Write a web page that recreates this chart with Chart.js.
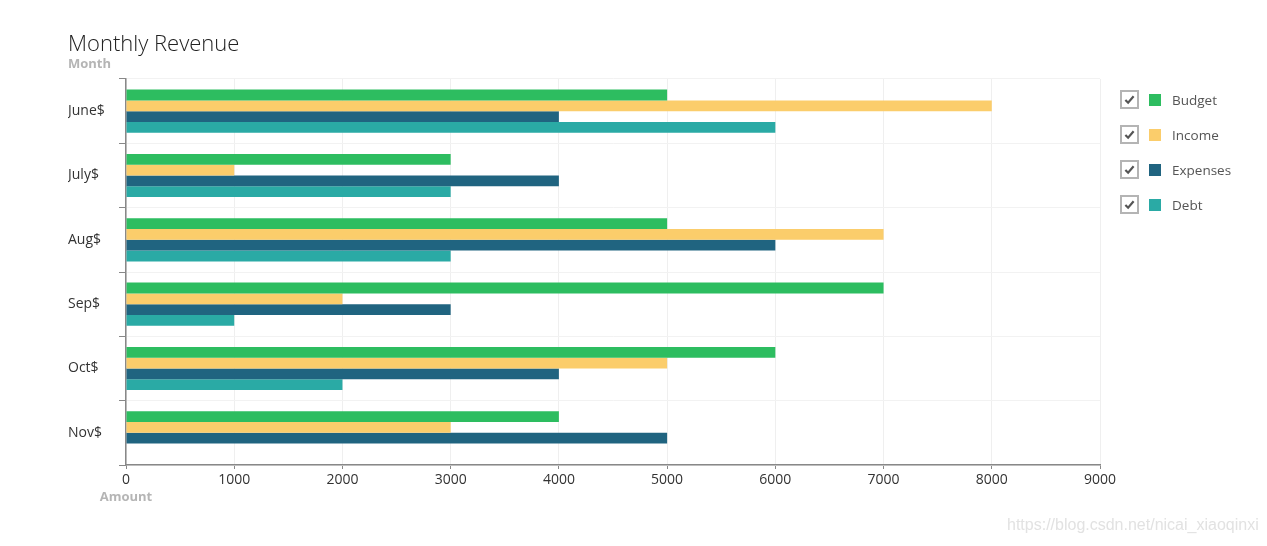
<!DOCTYPE html>
<html>
<head>
<meta charset="utf-8">
<script src="https://cdn.jsdelivr.net/npm/chart.js@4.4.0/dist/chart.umd.min.js"></script>
<style>
  html, body { margin: 0; padding: 0; background: #fff; }
  #wrap { position: relative; width: 1267px; height: 546px; font-family: "Open Sans", "Noto Sans", sans-serif; }
  #legend { position: absolute; left: 1120px; top: 82px; }
  .item { display: flex; align-items: center; height: 35px; cursor: pointer; }
  .box { width: 15px; height: 15px; border: 2px solid #b4b4b4; display: flex; align-items: center; justify-content: center; }
  .box svg { width: 11px; height: 11px; }
  .swatch { width: 12px; height: 12px; margin-left: 10px; }
  .label { margin-left: 11px; font-size: 13.5px; color: #555; }
  .off .box svg { visibility: hidden; }
  #mark { position: absolute; left: 1007px; top: 516px; font-family: "Liberation Sans", Arial, sans-serif; font-size: 16px; color: #e2e2e2; }
</style>
</head>
<body>
<div id="wrap">
  <canvas id="chart" width="1267" height="546"></canvas>
  <div id="legend"></div>
  <div id="mark">https://blog.csdn.net/nicai_xiaoqinxi</div>
</div>
<script>
// values
const months = ['June$', 'July$', 'Aug$', 'Sep$', 'Oct$', 'Nov$'];
const budget = [5000, 3000, 5000, 7000, 6000, 4000];
const income = [8000, 1000, 7000, 2000, 5000, 3000];
const expenses = [4000, 4000, 6000, 3000, 4000, 5000];
const debt = [6000, 3000, 3000, 1000, 2000, 0];
const seriesNames = ['Budget', 'Income', 'Expenses', 'Debt'];
const seriesColors = ['#2dbd60', '#fbcd6b', '#206480', '#2aaaa5'];

const font = '"Open Sans", "Noto Sans", sans-serif';

// "Amount" label centred under the zero tick
const amountLabel = {
    id: 'amountLabel',
    afterDraw(chart) {
        const ctx = chart.ctx;
        const x = chart.scales.x.getPixelForValue(0);
        ctx.save();
        ctx.font = 'bold 13px ' + font;
        ctx.fillStyle = '#b5b5b5';
        ctx.textAlign = 'center';
        ctx.textBaseline = 'middle';
        ctx.fillText('Amount', x, chart.chartArea.bottom + 32);
        ctx.restore();
    }
};

const ctx = document.getElementById('chart').getContext('2d');
const chart = new Chart(ctx, {
    type: 'bar',
    data: {
        labels: months,
        datasets: [budget, income, expenses, debt].map((d, i) => ({
            label: seriesNames[i],
            data: d,
            backgroundColor: seriesColors[i],
            borderWidth: 0,
            barPercentage: 1,
            categoryPercentage: 0.67
        }))
    },
    options: {
        indexAxis: 'y',
        responsive: false,
        animation: false,
        layout: { padding: { left: 68, right: 167, top: 30, bottom: 41 } },
        plugins: {
            legend: { display: false },
            tooltip: { enabled: true },
            title: {
                display: true,
                text: 'Monthly Revenue',
                align: 'start',
                color: '#222',
                font: { family: font, size: 22, weight: '300', lineHeight: 1.2 },
                padding: { top: 2, bottom: -2 }
            },
            subtitle: {
                display: true,
                text: 'Month',
                align: 'start',
                color: '#b5b5b5',
                font: { family: font, size: 13, weight: 'bold', lineHeight: 1.2 },
                padding: { top: 0, bottom: 7 }
            }
        },
        scales: {
            x: {
                min: 0,
                max: 9000,
                ticks: {
                    stepSize: 1000,
                    color: '#333',
                    padding: 3,
                    font: { family: font, size: 14 },
                    callback: (v) => String(v)
                },
                grid: { color: '#efefef', tickColor: '#888', tickLength: 4 },
                border: { color: '#888', width: 1.5 },
                afterFit(scale) { scale.height = 40; }
            },
            y: {
                ticks: { color: '#333', crossAlign: 'far', font: { family: font, size: 14 } },
                grid: { color: '#f2f2f2', tickColor: '#888', tickLength: 7 },
                border: { color: '#888', width: 1.5 },
                afterFit(scale) { scale.width = 58; }
            }
        }
    },
    plugins: [amountLabel]
});

// check-box legend
const legendEl = document.getElementById('legend');
seriesNames.forEach((name, i) => {
    const item = document.createElement('div');
    item.className = 'item';
    item.innerHTML = '<div class="box"><svg viewBox="0 0 12 12"><path d="M1.5 6.5 L4.5 9.5 L10.5 2.5" fill="none" stroke="#555" stroke-width="2.4"/></svg></div>' +
        '<div class="swatch" style="background:' + seriesColors[i] + '"></div>' +
        '<div class="label">' + name + '</div>';
    item.onclick = () => {
        const vis = chart.isDatasetVisible(i);
        chart.setDatasetVisibility(i, !vis);
        item.classList.toggle('off', vis);
        chart.update();
    };
    legendEl.appendChild(item);
});
</script>
</body>
</html>
